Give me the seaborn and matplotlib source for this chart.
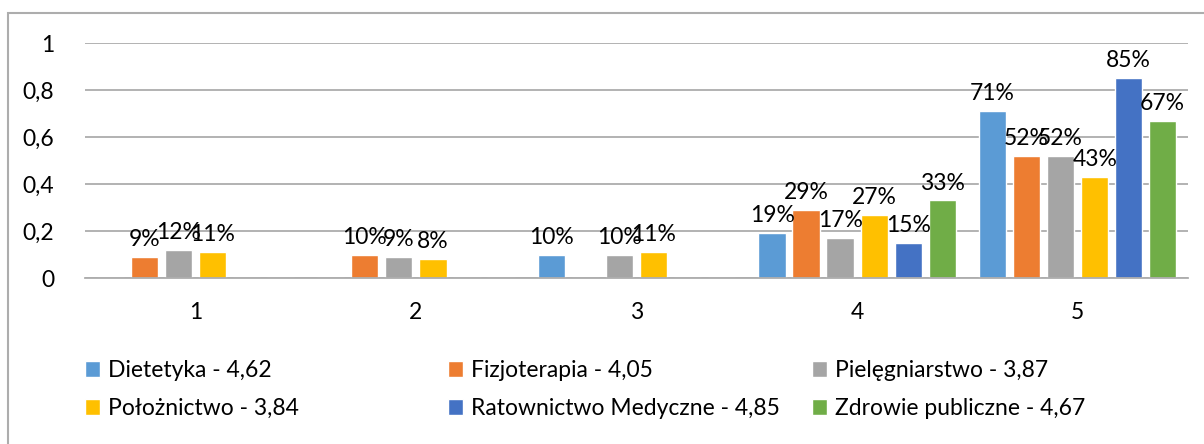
import pandas as pd
import matplotlib.pyplot as plt
import seaborn as sns
from matplotlib.patches import Patch, Rectangle

# Dane z wykresu
oceny = ["1", "2", "3", "4", "5"]
kierunki = ["Dietetyka - 4,62", "Fizjoterapia - 4,05", "Pielęgniarstwo - 3,87",
            "Położnictwo - 3,84", "Ratownictwo Medyczne - 4,85", "Zdrowie publiczne - 4,67"]
dietetyka = [0, 0, 0.10, 0.19, 0.71]
fizjoterapia = [0.09, 0.10, 0, 0.29, 0.52]
pielegniarstwo = [0.12, 0.09, 0.10, 0.17, 0.52]
poloznictwo = [0.11, 0.08, 0.11, 0.27, 0.43]
ratownictwo = [0, 0, 0, 0.15, 0.85]
zdrowie = [0, 0, 0, 0.33, 0.67]
y_ticks = [0, 0.2, 0.4, 0.6, 0.8, 1]
y_labels = ["0", "0,2", "0,4", "0,6", "0,8", "1"]
kolory = ["#5B9BD5", "#ED7D31", "#A5A5A5", "#FFC000", "#4472C4", "#70AD47"]

serie = [dietetyka, fizjoterapia, pielegniarstwo, poloznictwo, ratownictwo, zdrowie]
rows = []
for k, vals in zip(kierunki, serie):
    for o, v in zip(oceny, vals):
        rows.append({"ocena": o, "kierunek": k, "udzial": v})
df = pd.DataFrame(rows)

sns.set_style("white")
plt.rcParams['font.family'] = ['Lato', 'DejaVu Sans']
fs = 16.5

fig = plt.figure(figsize=(12.04, 4.44), dpi=100)
ax = fig.add_axes([85 / 1204, 1 - 278 / 444, (1188 - 85) / 1204, (278 - 43) / 444])

sns.barplot(data=df, x="ocena", y="udzial", hue="kierunek", hue_order=kierunki,
            palette=kolory, saturation=1, width=0.925, gap=0.2, legend=False, ax=ax)

# Etykiety procentowe (bez zer)
for cont, vals in zip(ax.containers, serie):
    labels = [f"{v * 100:.0f}%" if v > 0 else "" for v in vals]
    ax.bar_label(cont, labels=labels, padding=5, fontsize=fs, color="black")

ax.set_xlim(-0.5, 4.5)
ax.set_ylim(0, 1)
ax.set_yticks(y_ticks)
ax.set_yticklabels(y_labels)
ax.yaxis.grid(True, color="#ADADAD", linewidth=1.3)
ax.set_axisbelow(True)
for s in ["top", "right", "left"]:
    ax.spines[s].set_visible(False)
ax.spines["bottom"].set_color("#ADADAD")
ax.spines["bottom"].set_linewidth(1.3)
ax.tick_params(axis="y", length=0, pad=22, labelsize=fs, labelcolor="black")
ax.tick_params(axis="x", length=0, pad=17, labelsize=fs, labelcolor="black")
ax.set_xlabel("")
ax.set_ylabel("")

# Ramka wykresu
fig.patches.append(Rectangle((8 / 1204, -0.1), 1.2, 1 - 13 / 444 + 0.1, transform=fig.transFigure,
                             fill=False, edgecolor="#ADADAD", linewidth=1.5))

# Legenda w trzech kolumnach
handles = [Patch(facecolor=c) for c in kolory]
kol_x = [85, 448, 812]
for i, x in enumerate(kol_x):
    idx = [i, i + 3]
    fig.legend([handles[j] for j in idx], [kierunki[j] for j in idx],
               loc="upper left", bbox_to_anchor=(x / 1204, 1 - 360 / 444),
               frameon=False, borderpad=0, borderaxespad=0,
               handlelength=0.65, handleheight=0.65, handletextpad=0.35,
               labelspacing=0.75, fontsize=fs, labelcolor="black")

fig.savefig("out.png", dpi=100)
